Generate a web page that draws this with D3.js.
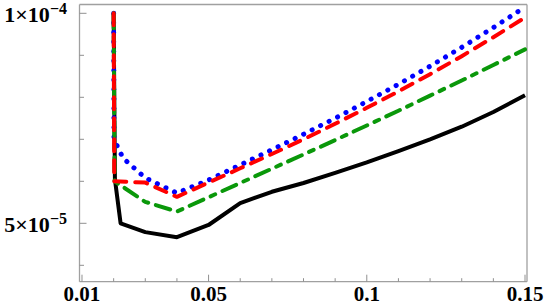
<html lang="en">
<head>
    <meta charset="UTF-8">
    <title>Curves</title>
    <script src="https://d3js.org/d3.v7.min.js"></script>
    <style>
        body, html {
            margin: 0;
            padding: 0;
            background: #fff;
        }
        .frame line {
            stroke: #a0a0a0;
            stroke-width: 1.3;
        }
        .tick-mark {
            stroke: #909090;
            stroke-width: 1;
        }
        .tick-label {
            font-family: "Liberation Serif", "Times New Roman", serif;
            font-weight: bold;
            font-size: 21px;
            fill: #000;
        }
        .ylabel {
            font-size: 22px;
        }
        .curve {
            fill: none;
            stroke-linejoin: round;
        }
    </style>
</head>
<body>
<div id="chart"></div>
<script>
    // x positions of the computed points
    const xBlack = [0.02, 0.0204, 0.0222, 0.03, 0.04, 0.05, 0.06, 0.07, 0.08, 0.09, 0.10, 0.11, 0.12, 0.13, 0.14, 0.15];
    const yBlack = [1.0e-4, 6.05e-5, 5.0e-5, 4.79e-5, 4.67e-5, 4.96e-5, 5.48e-5, 5.75e-5, 5.96e-5, 6.2e-5, 6.45e-5, 6.72e-5, 7.0e-5, 7.3e-5, 7.65e-5, 8.05e-5];

    const xGreen = [0.02, 0.0203, 0.03, 0.04, 0.05, 0.06, 0.07, 0.08, 0.09, 0.10, 0.11, 0.12, 0.13, 0.14, 0.15];
    const yGreen = [1.0e-4, 6.0e-5, 5.51e-5, 5.28e-5, 5.62e-5, 5.96e-5, 6.3e-5, 6.64e-5, 6.98e-5, 7.33e-5, 7.68e-5, 8.04e-5, 8.4e-5, 8.77e-5, 9.14e-5];

    const xRed = [0.02, 0.0202, 0.03, 0.04, 0.05, 0.06, 0.07, 0.08, 0.09, 0.10, 0.11, 0.12, 0.13, 0.14, 0.15];
    const yRed = [1.0e-4, 6.0e-5, 5.97e-5, 5.63e-5, 5.97e-5, 6.31e-5, 6.65e-5, 7.0e-5, 7.37e-5, 7.75e-5, 8.14e-5, 8.55e-5, 8.98e-5, 9.43e-5, 9.9e-5];

    const xBlue = [0.02, 0.0201, 0.023, 0.03, 0.04, 0.05, 0.06, 0.07, 0.08, 0.09, 0.10, 0.11, 0.12, 0.13, 0.14, 0.15];
    const yBlue = [1.0e-4, 7.0e-5, 6.55e-5, 6.08e-5, 5.72e-5, 6.03e-5, 6.39e-5, 6.75e-5, 7.12e-5, 7.5e-5, 7.9e-5, 8.31e-5, 8.74e-5, 9.19e-5, 9.66e-5, 1.015e-4];

    const xMajor = [0.01, 0.05, 0.1, 0.15];
    const xMajorLabels = ["0.01", "0.05", "0.1", "0.15"];
    const xMinor = [0.02, 0.03, 0.04, 0.06, 0.07, 0.08, 0.09, 0.11, 0.12, 0.13, 0.14];
    const yMajor = [1e-4, 5e-5];
    const yMajorMant = ["1×10", "5×10"];
    const yMajorExp = ["−4", "−5"];
    const yMinor = [4e-5, 6e-5, 7e-5, 8e-5, 9e-5];

    const width = 545, height = 305;
    const plotL = 79.5, plotR = 527, plotT = 4.5, plotB = 281.7;

    const x = d3.scaleLinear().domain([0.00921, 0.15063]).range([plotL, plotR]);
    const y = d3.scaleLinear().domain([3.6095e-5, 1.02095e-4]).range([plotB, plotT]);

    const svg = d3.select("#chart").append("svg")
        .attr("width", width)
        .attr("height", height);

    svg.append("defs").append("clipPath").attr("id", "plot-clip")
        .append("rect")
        .attr("x", plotL).attr("y", plotT)
        .attr("width", plotR - plotL).attr("height", plotB - plotT);

    // frame
    const frame = svg.append("g").attr("class", "frame");
    frame.append("line").attr("x1", plotL).attr("x2", plotR).attr("y1", plotB).attr("y2", plotB);
    frame.append("line").attr("x1", plotL).attr("x2", plotR).attr("y1", plotT).attr("y2", plotT);
    frame.append("line").attr("x1", plotL).attr("x2", plotL).attr("y1", plotT).attr("y2", plotB);
    frame.append("line").attr("x1", plotR).attr("x2", plotR).attr("y1", plotT).attr("y2", plotB);

    // ticks
    const ticks = svg.append("g");
    ticks.selectAll(".xmaj").data(xMajor).enter().append("line")
        .attr("class", "tick-mark")
        .attr("x1", d => x(d)).attr("x2", d => x(d))
        .attr("y1", plotB).attr("y2", plotB - 7);
    ticks.selectAll(".xmin").data(xMinor).enter().append("line")
        .attr("class", "tick-mark")
        .attr("x1", d => x(d)).attr("x2", d => x(d))
        .attr("y1", plotB).attr("y2", plotB - 3.5);
    ticks.selectAll(".ymaj").data(yMajor).enter().append("line")
        .attr("class", "tick-mark")
        .attr("x1", plotL).attr("x2", plotL + 7)
        .attr("y1", d => y(d)).attr("y2", d => y(d));
    ticks.selectAll(".ymin").data(yMinor).enter().append("line")
        .attr("class", "tick-mark")
        .attr("x1", plotL).attr("x2", plotL + 4.5)
        .attr("y1", d => y(d)).attr("y2", d => y(d));

    svg.selectAll(".xlab").data(xMajor).enter().append("text")
        .attr("class", "tick-label")
        .attr("x", d => x(d))
        .attr("y", 301)
        .attr("text-anchor", "middle")
        .text((d, i) => xMajorLabels[i]);

    const ylab = svg.selectAll(".ylab").data(yMajor).enter().append("text")
        .attr("class", "tick-label ylabel")
        .attr("x", 67)
        .attr("y", d => y(d) + 9)
        .attr("text-anchor", "end");
    ylab.append("tspan").text((d, i) => yMajorMant[i]);
    ylab.append("tspan")
        .attr("dy", -8)
        .style("font-size", "16px")
        .text((d, i) => yMajorExp[i]);

    // curves
    const series = [
        { xs: xBlack, ys: yBlack, color: "#000000", dash: null, w: 4 },
        { xs: xBlue, ys: yBlue, color: "#0000ff", dash: "0.1,9.4", w: 5 },
        { xs: xGreen, ys: yGreen, color: "#0a980a", dash: "15,8,5,8", w: 4 },
        { xs: xRed, ys: yRed, color: "#ff0000", dash: "12,9", w: 4 }
    ];

    const line = d3.line().x(d => x(d[0])).y(d => y(d[1]));

    svg.append("g").attr("clip-path", "url(#plot-clip)")
        .selectAll("path").data(series).enter().append("path")
        .attr("class", "curve")
        .attr("d", s => line(d3.zip(s.xs, s.ys)))
        .attr("stroke", s => s.color)
        .attr("stroke-width", s => s.w)
        .attr("stroke-dasharray", s => s.dash)
        .attr("stroke-linecap", s => s.dash ? "round" : "butt");
</script>
</body>
</html>
